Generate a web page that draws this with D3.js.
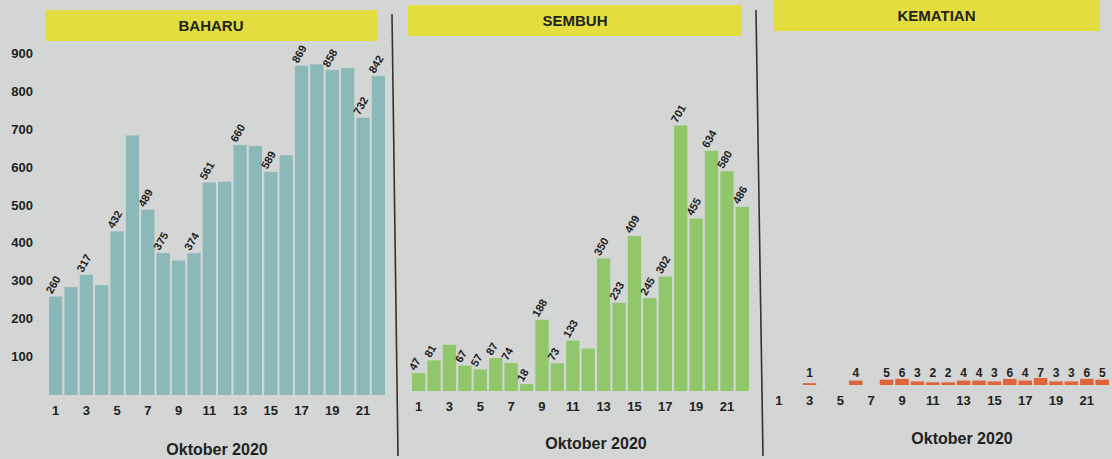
<!DOCTYPE html>
<html lang="ms">
<head>
<meta charset="utf-8">
<title>Kes COVID-19 Oktober 2020</title>
<script src="https://cdn.jsdelivr.net/npm/d3@7/dist/d3.min.js"></script>
<style>
    body { margin: 0; background: #d3d6d5; }
    svg { display: block; }
    text {
        font-family: "Liberation Sans", Arial, sans-serif;
        fill: #222;
    }
    .head { font-weight: bold; font-size: 15px; }
    .tick { font-size: 13px; font-weight: bold; }
    .val { font-size: 11px; font-weight: bold; }
    .month { font-size: 16px; font-weight: bold; }
</style>
</head>
<body>
<svg id="chart" width="1112" height="459"></svg>
<script>
    // data, Oktober 2020, day 1..22
    const days = d3.range(1, 23);
    const dayTicks = [1, 3, 5, 7, 9, 11, 13, 15, 17, 19, 21];
    const baharu = [260, 285, 317, 290, 432, 685, 489, 375, 355, 374, 561, 563,
        660, 657, 589, 633, 869, 873, 858, 863, 732, 842];
    // null = no label printed on the bar
    const baharuLabels = [260, null, 317, null, 432, null, 489, 375, null, 374, 561, null,
        660, null, 589, null, 869, null, 858, null, 732, 842];
    const sembuh = [47, 81, 122, 67, 57, 87, 74, 18, 188, 73, 133, 112,
        350, 233, 409, 245, 302, 701, 455, 634, 580, 486];
    const sembuhLabels = [47, 81, null, 67, 57, 87, 74, 18, 188, 73, 133, null,
        350, 233, 409, 245, 302, 701, 455, 634, 580, 486];
    const kematian = [0, 0, 1, 0, 0, 4, 0, 5, 6, 3, 2, 2, 4, 4, 3, 6, 4, 7, 3, 3, 6, 5];
    const yTicks = [100, 200, 300, 400, 500, 600, 700, 800, 900];

    const svg = d3.select("#chart");

    // panel dividers (slightly skewed like the scan)
    svg.append("line").attr("x1", 392).attr("y1", 14).attr("x2", 398).attr("y2", 456)
        .attr("stroke", "#333").attr("stroke-width", 1.6);
    svg.append("line").attr("x1", 756).attr("y1", 10).attr("x2", 763).attr("y2", 456)
        .attr("stroke", "#333").attr("stroke-width", 1.6);

    function header(x0, x1, y, label) {
        svg.append("rect").attr("x", x0).attr("y", y).attr("width", x1 - x0).attr("height", 31)
            .attr("fill", "#e3dd40");
        svg.append("text").attr("class", "head")
            .attr("x", (x0 + x1) / 2).attr("y", y + 21)
            .attr("text-anchor", "middle").text(label);
    }
    header(45, 377, 10, "BAHARU");
    header(408, 742, 5, "SEMBUH");
    header(773, 1100, 0, "KEMATIAN");

    // shared y scale for the two big panels
    const y = d3.scaleLinear().domain([0, 900]).range([396, 55]);

    // y axis labels (left panel only)
    svg.selectAll(".ylab").data(yTicks).join("text")
        .attr("class", "tick")
        .attr("x", 33).attr("y", d => y(d) + 3)
        .attr("text-anchor", "end").text(d => d);

    function panel(x0, x1, values, labels, color, base, tickY, monthX, monthY) {
        const x = d3.scaleBand().domain(days).range([x0, x1]).paddingInner(0.14);
        const yy = y.copy().range([base, base - (396 - 55)]);
        const g = svg.append("g");
        g.selectAll("rect").data(values).join("rect")
            .attr("x", (d, i) => x(days[i]))
            .attr("y", d => yy(d))
            .attr("width", x.bandwidth())
            .attr("height", d => yy(0) - yy(d))
            .attr("fill", color);
        g.selectAll(".val").data(values).join("text")
            .attr("class", "val")
            .attr("transform", (d, i) => `translate(${x(days[i]) + 3},${yy(d) - 2}) rotate(-60)`)
            .text((d, i) => labels[i] === null ? "" : labels[i]);
        g.selectAll(".xlab").data(dayTicks).join("text")
            .attr("class", "tick")
            .attr("x", d => x(d) + x.bandwidth() / 2).attr("y", tickY)
            .attr("text-anchor", "middle").text(d => d);
        g.append("text").attr("class", "month")
            .attr("x", monthX).attr("y", monthY)
            .attr("text-anchor", "middle").text("Oktober 2020");
    }

    panel(49, 385, baharu, baharuLabels, "#8bb9b9", 395, 415, 217, 455);
    panel(412, 749, sembuh, sembuhLabels, "#8fc76a", 391, 411, 596, 449);

    // KEMATIAN: tiny bars, labels on one line
    const xk = d3.scaleBand().domain(days).range([772, 1109]).paddingInner(0.12);
    const yk = d3.scaleLinear().domain([0, 7]).range([385, 379]);
    const gk = svg.append("g");
    gk.selectAll("rect").data(kematian).join("rect")
        .attr("x", (d, i) => xk(days[i]))
        .attr("y", d => d > 0 ? yk(d) - 1 : yk(0))
        .attr("width", xk.bandwidth())
        .attr("height", d => d > 0 ? yk(0) - yk(d) + 1 : 0)
        .attr("fill", "#df643a");
    gk.selectAll(".val").data(kematian).join("text")
        .attr("class", "val")
        .style("font-size", "12px")
        .attr("x", (d, i) => xk(days[i]) + xk.bandwidth() / 2).attr("y", 377)
        .attr("text-anchor", "middle")
        .text(d => d > 0 ? d : "");
    gk.selectAll(".xlab").data(dayTicks).join("text")
        .attr("class", "tick")
        .attr("x", d => xk(d) + xk.bandwidth() / 2).attr("y", 405)
        .attr("text-anchor", "middle").text(d => d);
    gk.append("text").attr("class", "month")
        .attr("x", 962).attr("y", 444)
        .attr("text-anchor", "middle").text("Oktober 2020");
</script>
</body>
</html>
